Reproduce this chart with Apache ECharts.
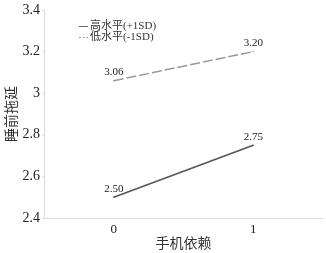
<!DOCTYPE html>
<html><head><meta charset="utf-8">
<script src="https://cdn.jsdelivr.net/npm/echarts@6/dist/echarts.min.js"></script>
<style>html,body{margin:0;padding:0;background:#fff}#c{width:326px;height:253px}</style>
</head><body><div id="c"></div>
<script>
const categories = ['0', '1'];
const highValues = [2.50, 2.75];
const lowValues = [3.06, 3.20];
const seriesNames = ['高水平(+1SD)', '低水平(-1SD)'];
const yTicks = {min: 2.4, max: 3.4, interval: 0.2};
const FONT = '"Liberation Serif", "Noto Sans CJK SC", serif';
const chart = echarts.init(document.getElementById('c'));
chart.setOption({
  animation: false,
  textStyle: {fontFamily: FONT},
  grid: {left: 44, right: 3, top: 10, bottom: 35, containLabel: false, outerBoundsMode: 'none'},
  legend: {
    left: 74, top: 16, orient: 'vertical', itemGap: 0, itemWidth: 9, itemHeight: 11,
    textStyle: {fontFamily: FONT, fontSize: 11, color: '#333', padding: [0, 0, 0, -3]},
    data: [
      {name: seriesNames[0], icon: 'path://M0,4.5 L10,4.5 L10,5.5 L0,5.5 Z', itemStyle: {color: '#555'}},
      {name: seriesNames[1], icon: 'path://M0,4.5 L2,4.5 L2,5.5 L0,5.5 Z M4,4.5 L6,4.5 L6,5.5 L4,5.5 Z M8,4.5 L10,4.5 L10,5.5 L8,5.5 Z', itemStyle: {color: '#999'}}
    ]
  },
  xAxis: {
    type: 'category', data: categories, boundaryGap: true,
    name: '手机依赖', nameLocation: 'middle', nameGap: 19, nameMoveOverlap: false,
    nameTextStyle: {fontFamily: FONT, fontSize: 14, color: '#333'},
    axisLine: {lineStyle: {color: '#d6dcee'}},
    axisTick: {show: false},
    axisLabel: {fontFamily: FONT, fontSize: 13, color: '#222', margin: 5}
  },
  yAxis: {
    type: 'value', min: yTicks.min, max: yTicks.max, interval: yTicks.interval,
    name: '睡前拖延', nameLocation: 'middle', nameGap: 25, nameRotate: 90, nameMoveOverlap: false,
    nameTextStyle: {fontFamily: FONT, fontSize: 14, color: '#333'},
    axisLine: {show: true, lineStyle: {color: '#d6dcee'}},
    axisTick: {show: true, length: 2, lineStyle: {color: '#d6dcee'}},
    splitLine: {show: false},
    axisLabel: {fontFamily: FONT, fontSize: 14, color: '#222', margin: 4,
      formatter: v => String(+v.toFixed(1))}
  },
  series: [
    {name: seriesNames[0], type: 'line', data: highValues, symbol: 'circle', symbolSize: 1.5,
      itemStyle: {color: '#555'},
      lineStyle: {color: '#555', width: 1.5, type: 'solid'},
      label: {show: true, position: 'top', distance: 2, fontSize: 11, fontFamily: FONT, color: '#222',
        formatter: p => p.value.toFixed(2)}},
    {name: seriesNames[1], type: 'line', data: lowValues, symbol: 'circle', symbolSize: 1.5,
      itemStyle: {color: '#999'},
      lineStyle: {color: '#999', width: 1.5, type: [10, 3]},
      label: {show: true, position: 'top', distance: 2, fontSize: 11, fontFamily: FONT, color: '#222',
        formatter: p => p.value.toFixed(2)}}
  ]
});
</script></body></html>
